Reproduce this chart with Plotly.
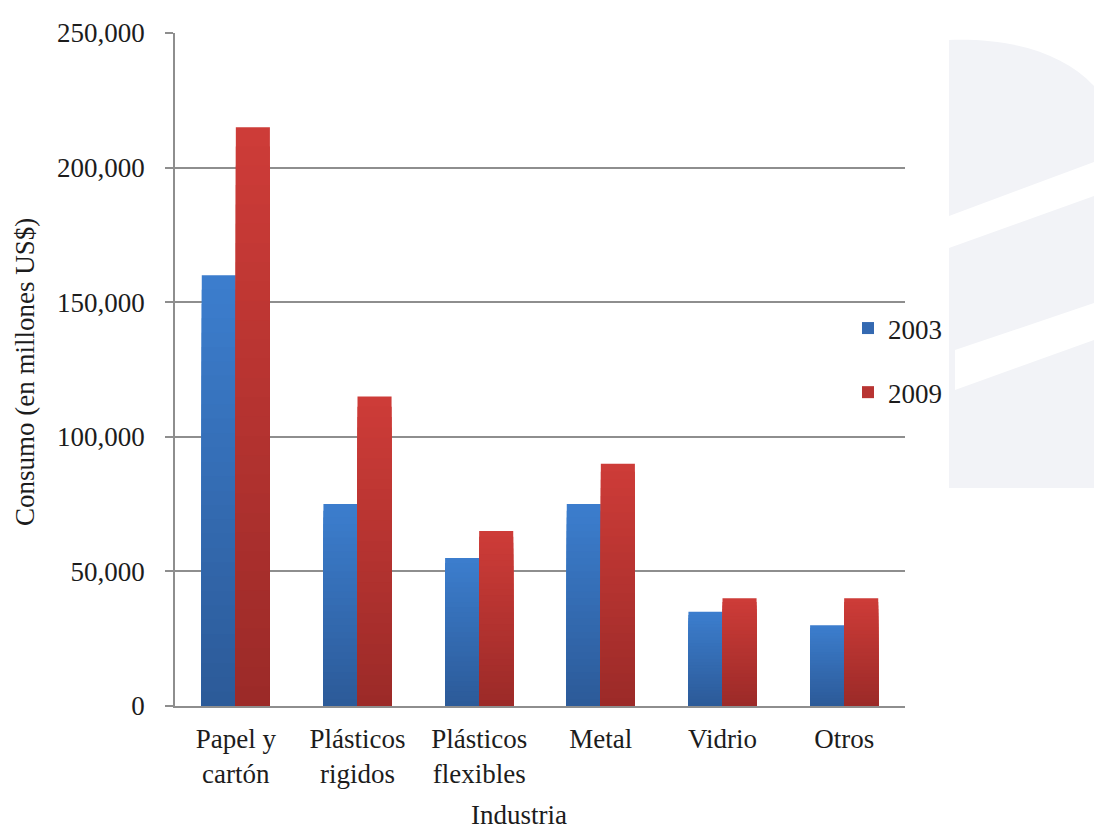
import plotly.graph_objects as go

# ---- data ----
categorias = ["Papel y<br>cartón", "Plásticos<br>rigidos", "Plásticos<br>flexibles", "Metal", "Vidrio", "Otros"]
serie_2003 = [160000, 75000, 55000, 75000, 35000, 30000]
serie_2009 = [215000, 115000, 65000, 90000, 40000, 40000]
y_ticks = [0, 50000, 100000, 150000, 200000, 250000]

# ---- style ----
FONT = "Liberation Serif, Times New Roman, serif"
TXT = "#1c1c1c"
W, H = 1094, 832
L, R, T, B = 175, 905, 33, 706  # plot area in pixels

def px(x, y):
    return (x - L) / (R - L), (B - y) / (B - T)

def mix(c1, c2, t):
    return "rgb(%d,%d,%d)" % tuple(round(a + (b - a) * t) for a, b in zip(c1, c2))

series = [
    ("2003", serie_2003, (44, 90, 152), (60, 126, 206), "#3469b1"),
    ("2009", serie_2009, (155, 42, 40), (206, 60, 56), "#b83432"),
]

fig = go.Figure()

# legend proxies (define group order)
for name, vals, bot, top, mid in series:
    fig.add_trace(go.Bar(x=categorias, y=[None] * len(categorias), name=name,
                         marker=dict(color=mid, line=dict(width=0)),
                         offsetgroup=name, legendgroup=name, showlegend=True))

# vertical gradient: overlaid bars, each shorter one drawn on top of the taller one
N = 30
for name, vals, bot, top, mid in series:
    for k in range(N - 1, -1, -1):
        fig.add_trace(go.Bar(
            x=categorias,
            y=[v * (k + 1) / N for v in vals],
            marker=dict(color=mix(bot, top, (k + 0.5) / N), line=dict(width=0)),
            offsetgroup=name, legendgroup=name, showlegend=False,
            hoverinfo="skip" if k < N - 1 else None,
            hovertemplate="%{x}: %{y:,}<extra>" + name + "</extra>",
        ))

# watermark shape on the right
def path(points, close=True):
    s = ""
    for i, (x, y) in enumerate(points):
        xp, yp = px(x, y)
        s += ("M" if i == 0 else "L") + f"{xp:.5f},{yp:.5f} "
    return s + ("Z" if close else "")

gray = "#f2f3f7"
x0, y0 = px(949, 488)
x1, y1 = px(949, 40)
c1x, c1y = px(1010, 38)
c2x, c2y = px(1062, 52)
x2, y2 = px(1094, 86)
x3, y3 = px(1094, 488)
shapes = [
    dict(type="path", xref="paper", yref="paper", layer="below",
         path=f"M{x0},{y0} L{x1},{y1} C{c1x},{c1y} {c2x},{c2y} {x2},{y2} L{x3},{y3} Z",
         fillcolor=gray, line=dict(width=0)),
    dict(type="path", xref="paper", yref="paper", layer="below",
         path=path([(949, 216), (1094, 162), (1094, 196), (949, 248)]),
         fillcolor="white", line=dict(width=0)),
    dict(type="path", xref="paper", yref="paper", layer="below",
         path=path([(955, 350), (1094, 303), (1094, 340), (955, 390)]),
         fillcolor="white", line=dict(width=0)),
]

ax_col = "#8e8e8e"
lx, ly = px(848, 304)
tx, ty = px(519, 815)
yx, yy = px(25, 372)

fig.update_layout(
    width=W, height=H,
    margin=dict(l=L, r=W - R, t=T, b=H - B, pad=0),
    paper_bgcolor="white", plot_bgcolor="rgba(0,0,0,0)",
    font=dict(family=FONT, size=27, color=TXT),
    barmode="group", bargap=0.44, bargroupgap=0,
    showlegend=True,
    legend=dict(x=lx, y=ly, xanchor="left", yanchor="top",
                font=dict(family=FONT, size=27, color=TXT),
                bgcolor="rgba(0,0,0,0)", traceorder="grouped", tracegroupgap=26,
                itemwidth=30),
    shapes=shapes,
    annotations=[
        dict(text="Industria", x=tx, y=ty, xref="paper", yref="paper",
             showarrow=False, xanchor="center", yanchor="middle",
             font=dict(family=FONT, size=27, color=TXT)),
        dict(text="Consumo (en millones US$)", x=yx, y=yy, xref="paper", yref="paper",
             showarrow=False, textangle=-90, xanchor="center", yanchor="middle",
             font=dict(family=FONT, size=27, color=TXT)),
    ],
    xaxis=dict(showgrid=False, showline=True, linecolor=ax_col, linewidth=1.5,
               ticks="", tickfont=dict(family=FONT, size=27, color=TXT),
               ticklabelstandoff=8),
    yaxis=dict(range=[0, 250000], tickvals=y_ticks, tickformat=",",
               showgrid=True, gridcolor=ax_col, gridwidth=1.5,
               showline=True, linecolor=ax_col, linewidth=1.5,
               ticks="outside", ticklen=8, tickcolor=ax_col, tickwidth=1.5,
               zeroline=False,
               tickfont=dict(family=FONT, size=27, color=TXT),
               ticklabelstandoff=15),
)

fig.write_html("out.html")
